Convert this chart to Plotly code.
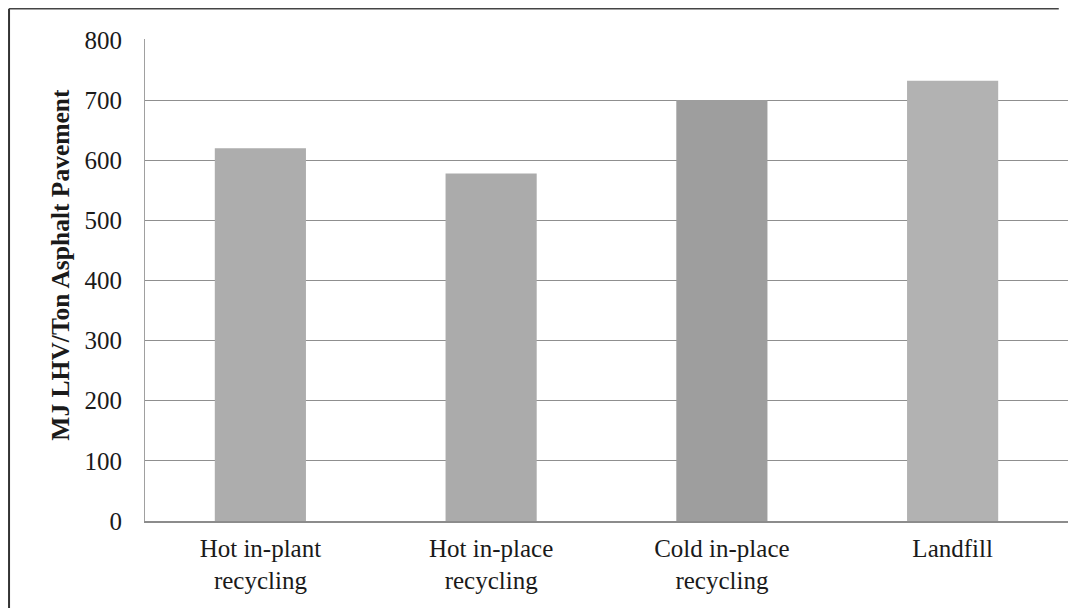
import plotly.graph_objects as go

# Energy use by end-of-life option for asphalt pavement
categories = ["Hot in-plant<br>recycling", "Hot in-place<br>recycling",
              "Cold in-place<br>recycling", "Landfill"]
energy_mj = [620, 578, 700, 732]
y_ticks = [0, 100, 200, 300, 400, 500, 600, 700, 800]
bar_colors = ["#adadad", "#ababab", "#9e9e9e", "#b2b2b2"]

serif = "Liberation Serif, Times New Roman, serif"
ink = "#1a1a1a"

fig = go.Figure(
    go.Bar(
        x=categories,
        y=energy_mj,
        marker=dict(color=bar_colors, line=dict(width=0)),
        hoverinfo="y",
    )
)

fig.update_layout(
    width=1086,
    height=608,
    margin=dict(l=145, r=18, t=39, b=87),
    paper_bgcolor="white",
    plot_bgcolor="white",
    bargap=0.605,
    showlegend=False,
    font=dict(family=serif, color=ink),
)

fig.update_xaxes(
    tickfont=dict(family=serif, size=25, color=ink),
    ticklabelstandoff=4,
    showline=True,
    linecolor="#8c8c8c",
    linewidth=1.5,
    ticks="",
    showgrid=False,
)

# Upper limit sits just past 800 so the top gridline stays inside the plot
fig.update_yaxes(
    range=[0, 801.5],
    tickvals=y_ticks,
    tickfont=dict(family=serif, size=25, color=ink),
    showgrid=True,
    gridcolor="#8f8f8f",
    gridwidth=1.2,
    showline=True,
    linecolor="#a0a0a0",
    linewidth=1,
    zeroline=False,
    ticks="",
    ticklabelstandoff=17,
)

# Rotated axis title
fig.add_annotation(
    text="<b>MJ LHV/Ton Asphalt Pavement</b>",
    xref="paper", yref="paper",
    x=-0.092, y=0.532,
    xanchor="center", yanchor="middle",
    textangle=-90,
    showarrow=False,
    font=dict(family=serif, size=25.5, color=ink),
)

# Frame lines along the left and top edges
fig.add_shape(type="line", xref="paper", yref="paper",
              x0=-0.1473, x1=-0.1473, y0=-0.2, y1=1.063,
              line=dict(color="#333333", width=2))
fig.add_shape(type="line", xref="paper", yref="paper",
              x0=-0.1473, x1=0.99, y0=1.063, y1=1.063,
              line=dict(color="#444444", width=1.5))

fig.write_html("out.html")
